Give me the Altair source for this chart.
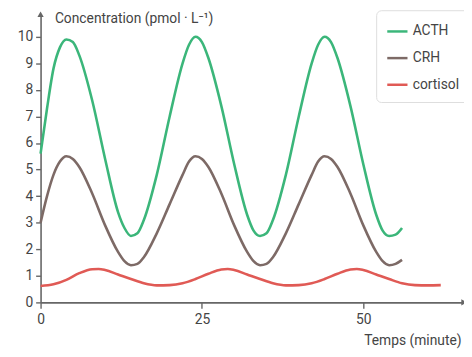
import altair as alt
import pandas as pd

# ---- data ----
acth_t = [0, 1, 2, 3, 4, 5, 6, 8, 10, 12, 13, 14, 15, 16, 18, 20, 22, 23, 24, 25, 26, 28, 30, 32, 33, 34, 35, 36, 38, 40, 42, 43, 44, 45, 46, 48, 50, 52, 53, 54, 55, 56]
acth_v = [5.6, 7.3, 8.8, 9.6, 9.9, 9.8, 9.3, 7.6, 5.4, 3.4, 2.8, 2.5, 2.6, 3.1, 4.8, 7.0, 9.0, 9.7, 10.0, 9.8, 9.2, 7.4, 5.2, 3.3, 2.7, 2.5, 2.6, 3.1, 4.8, 7.0, 9.0, 9.7, 10.0, 9.8, 9.2, 7.4, 5.2, 3.3, 2.7, 2.5, 2.55, 2.8]

crh_t = [0, 1, 2, 3, 4, 5, 6, 8, 10, 12, 13, 14, 15, 16, 18, 20, 22, 23, 24, 25, 26, 28, 30, 32, 33, 34, 35, 36, 38, 40, 42, 43, 44, 45, 46, 48, 50, 52, 53, 54, 55, 56]
crh_v = [3.0, 4.0, 4.8, 5.3, 5.5, 5.4, 5.1, 4.1, 2.9, 1.9, 1.55, 1.4, 1.45, 1.7, 2.6, 3.7, 4.8, 5.3, 5.5, 5.4, 5.1, 4.1, 2.9, 1.9, 1.55, 1.4, 1.45, 1.7, 2.6, 3.7, 4.8, 5.3, 5.5, 5.4, 5.1, 4.1, 2.9, 1.9, 1.55, 1.4, 1.45, 1.6]

cort_t = [0, 2, 4, 6, 8, 9, 10, 12, 14, 16, 18, 20, 22, 24, 26, 28, 29, 30, 32, 34, 36, 38, 40, 42, 44, 46, 48, 49, 50, 52, 54, 56, 58, 60, 62]
cort_v = [0.62, 0.68, 0.85, 1.1, 1.25, 1.26, 1.22, 1.05, 0.88, 0.72, 0.64, 0.65, 0.72, 0.88, 1.08, 1.24, 1.26, 1.22, 1.05, 0.88, 0.72, 0.64, 0.65, 0.72, 0.88, 1.08, 1.24, 1.26, 1.22, 1.05, 0.88, 0.72, 0.65, 0.64, 0.65]

series = ["ACTH", "CRH", "cortisol"]
colors = ["#3bb67a", "#7d6a66", "#e05a55"]
x_ticks = [0, 25, 50]
y_ticks = [0, 1, 2, 3, 4, 5, 6, 7, 8, 9, 10]
x_max = 65.6
y_max = 10.85

rows = []
for t, v in zip(acth_t, acth_v):
    rows.append({"t": t, "v": v, "s": "ACTH"})
for t, v in zip(crh_t, crh_v):
    rows.append({"t": t, "v": v, "s": "CRH"})
for t, v in zip(cort_t, cort_v):
    rows.append({"t": t, "v": v, "s": "cortisol"})
df = pd.DataFrame(rows)

FONT = "Roboto"
AX = "#666666"
TXT = "#444444"

xscale = alt.Scale(domain=[0, x_max], nice=False, zero=False)
yscale = alt.Scale(domain=[0, y_max], nice=False)

xaxis = alt.Axis(values=x_ticks, grid=False, domainColor=AX, domainWidth=1.6,
                 tickColor=AX, tickWidth=1.4, tickSize=6, labelFontSize=14,
                 labelColor=TXT, labelFont=FONT, labelPadding=4,
                 labelOverlap=False, labelFlush=False,
                 title="Temps (minute)", titleFont=FONT, titleFontSize=14,
                 titleFontWeight="normal", titleColor=TXT,
                 titleAlign="right", titleAnchor="end", titleX=426, titleY=46,
                 titleBaseline="bottom")
yaxis = alt.Axis(values=y_ticks, grid=False, domainColor=AX, domainWidth=1.6,
                 tickColor=AX, tickWidth=1.4, tickSize=5, labelFontSize=14,
                 labelColor=TXT, labelFont=FONT, labelPadding=3,
                 labelOverlap=False, labelFlush=False,
                 title="Concentration (pmol · L⁻¹)", titleFont=FONT, titleFontSize=14,
                 titleFontWeight="normal", titleColor=TXT, titleAngle=0,
                 titleAlign="left", titleBaseline="middle", titleX=14, titleY=4)

lines = alt.Chart(df).mark_line(strokeWidth=2.6, interpolate="monotone").encode(
    x=alt.X("t:Q", scale=xscale, axis=xaxis, title="Temps (minute)"),
    y=alt.Y("v:Q", scale=yscale, axis=yaxis, title="Concentration (pmol · L⁻¹)"),
    color=alt.Color("s:N", scale=alt.Scale(domain=series, range=colors),
                    legend=alt.Legend(title=None, orient="none", legendX=340, legendY=-4,
                                      symbolType="stroke", symbolStrokeWidth=2.5,
                                      symbolSize=420, labelFontSize=14, labelFont=FONT,
                                      labelColor=TXT, padding=10, rowPadding=8,
                                      fillColor="white", strokeColor="#dddddd",
                                      cornerRadius=5)),
)

arrow_up = alt.Chart(pd.DataFrame({"t": [0], "v": [y_max]})).mark_point(
    shape="triangle-up", filled=True, size=40, color=AX, opacity=1).encode(
    x=alt.X("t:Q", scale=xscale, axis=xaxis, title="Temps (minute)"),
    y=alt.Y("v:Q", scale=yscale, axis=yaxis, title="Concentration (pmol · L⁻¹)"))
arrow_right = alt.Chart(pd.DataFrame({"t": [x_max], "v": [0]})).mark_point(
    shape="triangle-right", filled=True, size=40, color=AX, opacity=1).encode(
    x=alt.X("t:Q", scale=xscale, axis=xaxis, title="Temps (minute)"),
    y=alt.Y("v:Q", scale=yscale, axis=yaxis, title="Concentration (pmol · L⁻¹)"))

chart = alt.layer(lines, arrow_up, arrow_right).properties(
    width=429, height=292,
    autosize=alt.AutoSizeParams(type="none"),
    padding={"left": 33, "top": 4, "right": 0, "bottom": 48},
    background="white",
).configure_view(stroke=None)

chart.save("out.html", embed_options={"renderer": "svg", "actions": False})
